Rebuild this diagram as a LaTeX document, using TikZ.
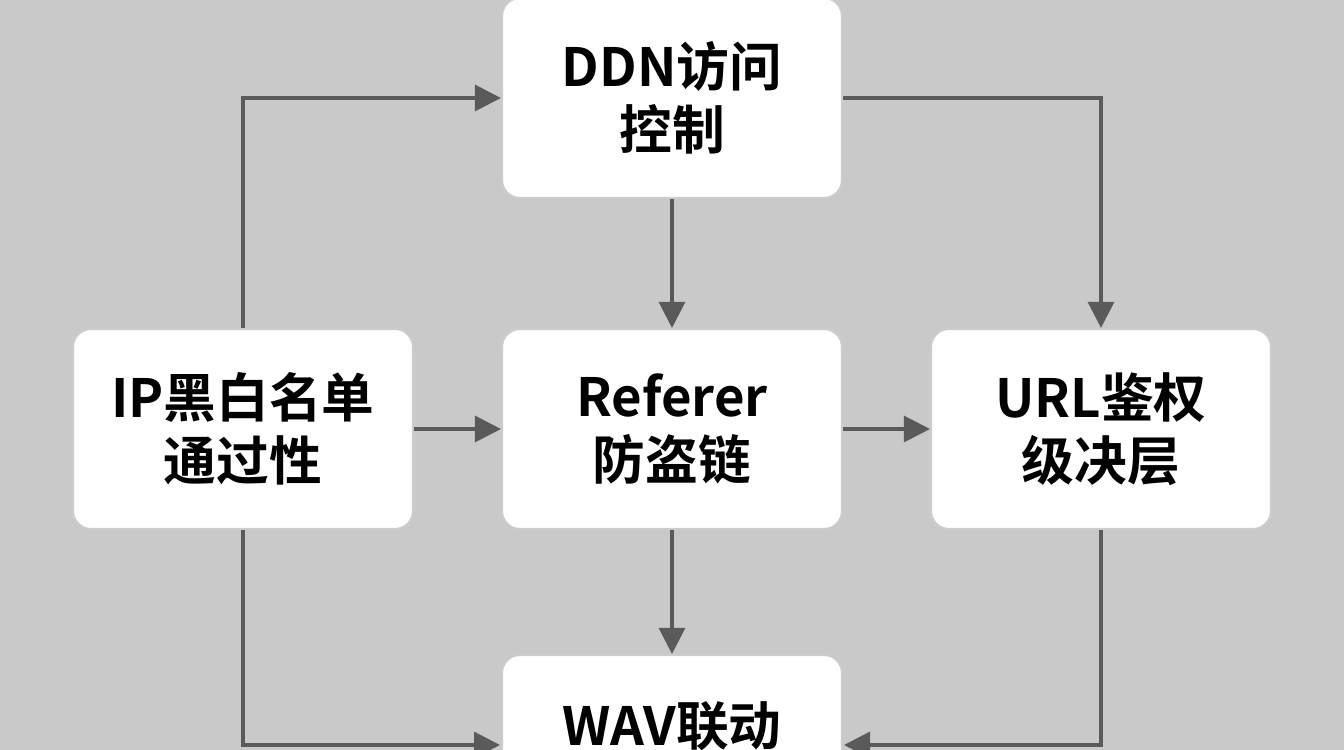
\documentclass[tikz,border=0pt]{standalone}
\usepackage{fontspec}
\newfontfamily\cjk{Noto Sans CJK SC}[BoldFont={Noto Sans CJK SC Bold}]
\usetikzlibrary{arrows.meta}
\definecolor{bg}{HTML}{C9C9C9}
\definecolor{arr}{HTML}{5A5A5A}
\tikzset{
  box/.style={draw=gray!40,line width=0.6pt,fill=white,rounded corners=0.18cm,
    minimum width=3.4cm,minimum height=2cm,align=center,
    font=\cjk\bfseries\fontsize{15pt}{18pt}\selectfont},
  link/.style={draw=arr,line width=0.9pt,-{Triangle[width=0.26cm,length=0.26cm]}}
}
\begin{document}
\begin{tikzpicture}
\fill[bg] (0,0) rectangle (13.44,7.5);
\clip (0,0) rectangle (13.44,7.5);
\node[box] (ddn) at (6.72,6.52) {DDN访问\\控制};
\node[box] (ip) at (2.43,3.21) {IP黑白名单\\通过性};
\node[box] (ref) at (6.72,3.21) {Referer\\防盗链};
\node[box] (url) at (11.01,3.21) {URL鉴权\\级决层};
\node[box] (wav) at (6.72,-0.05) {WAV联动\\};
\coordinate (wl) at (5.0,0.05);
\coordinate (wr) at (8.44,0.05);
\draw[link] (ip.north) |- (ddn.west);
\draw[link] (ddn.east) -| (url.north);
\draw[link] (ddn.south) -- (ref.north);
\draw[link] (ip.east) -- (ref.west);
\draw[link] (ref.east) -- (url.west);
\draw[link] (ref.south) -- (wav.north);
\draw[link] (ip.south) |- (wl);
\draw[link] (url.south) |- (wr);
\end{tikzpicture}
\end{document}
